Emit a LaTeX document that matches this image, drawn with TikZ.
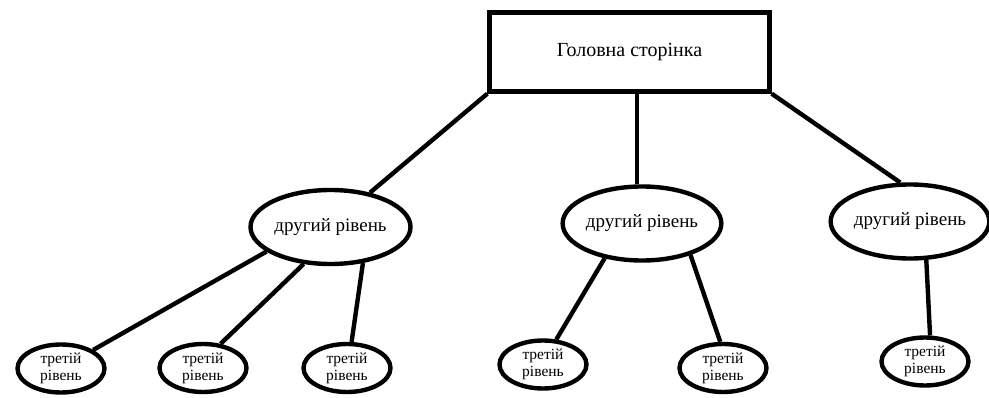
\documentclass[tikz,border=0pt]{standalone}
\usepackage{fontspec}
\setmainfont{Liberation Serif}
\usetikzlibrary{shapes.geometric}
\begin{document}
\begin{tikzpicture}[x=1pt,y=-1pt,
  lw/.style={line width=4.4pt},
  mainbox/.style={draw,lw,rectangle,minimum width=280pt,minimum height=79pt,inner sep=0pt,font=\fontsize{20}{22}\selectfont},
  lvltwo/.style={draw,lw,ellipse,minimum width=157pt,minimum height=74pt,inner sep=0pt,font=\fontsize{19}{21}\selectfont},
  lvlthree/.style={draw,lw,ellipse,minimum width=87pt,minimum height=48pt,inner sep=0pt,align=center,font=\fontsize{15.5}{17}\selectfont},
  conn/.style={lw}]
\useasboundingbox (0,0) rectangle (989,398);
\node[mainbox] (box) at (629.5,52) {Головна сторінка};
\node[lvltwo,minimum width=160pt] (e1) at (330.5,227) {другий рівень};
\node[lvltwo] (e2) at (642,223.5) {другий рівень};
\node[lvltwo] (e3) at (910,221.5) {другий рівень};
\node[lvlthree] (t1) at (61,368.5) {третій\\рівень};
\node[lvlthree] (t2) at (203,368) {третій\\рівень};
\node[lvlthree] (t3) at (347,368) {третій\\рівень};
\node[lvlthree] (t4) at (543,364.5) {третій\\рівень};
\node[lvlthree] (t5) at (723,368) {третій\\рівень};
\node[lvlthree] (t6) at (925,361.5) {третій\\рівень};
\draw[conn] (box.south west) -- (e1.41);
\draw[conn] (box.south -| e2.97) -- (e2.97);
\draw[conn] (box.south east) -- (e3.104);
\draw[conn] (e1.201) -- (t1.30);
\draw[conn] (e1.234) -- (t2.54);
\draw[conn] (e1.312) -- (t3.80);
\draw[conn] (e2.223) -- (t4.62);
\draw[conn] (e2.327) -- (t5.96);
\draw[conn] (e3.293) -- (t6.79);
\end{tikzpicture}
\end{document}
